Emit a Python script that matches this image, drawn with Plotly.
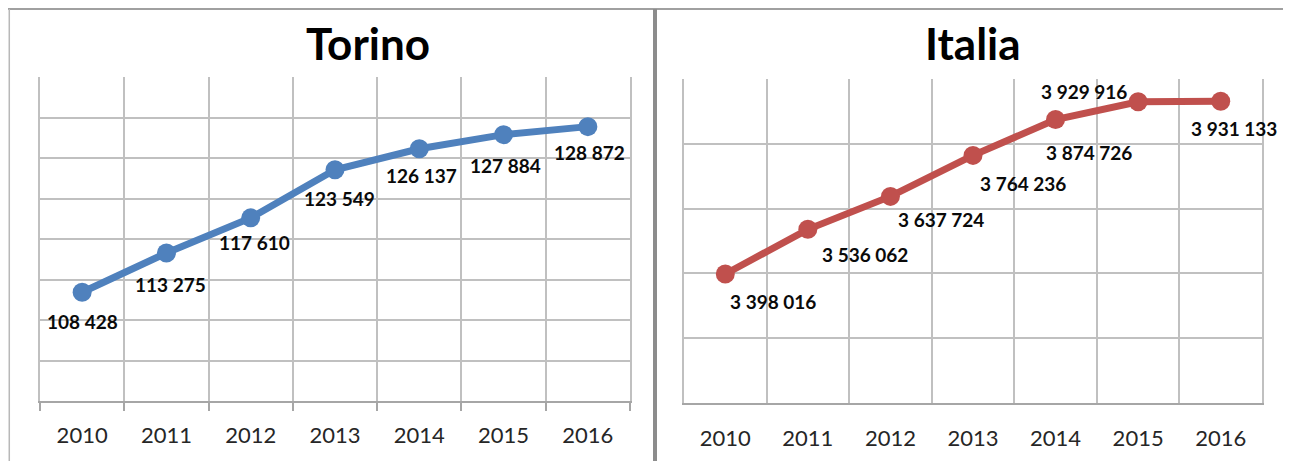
import plotly.graph_objects as go

# ---- data ----
years = ["2010", "2011", "2012", "2013", "2014", "2015", "2016"]
torino_values = [108428, 113275, 117610, 123549, 126137, 127884, 128872]
italia_values = [3398016, 3536062, 3637724, 3764236, 3874726, 3929916, 3931133]
titles = ["Torino", "Italia"]

# ---- label placement (pixel offsets from each point) ----
torino_dx = [0, 4, 4, 4, 2, 2, 2]
torino_dy = [-29, -32, -25, -29, -27, -31, -26]
italia_dx = [48, 57, 51, 50, 33, -54, 13]
italia_dy = [-27, -25, -23, -28, -33, 10, -27]

# page has an 8px body margin; the figure occupies the rest of the window
OFF = 8
W, H = 1291 - OFF, 461 - OFF
BLUE = "#4f81bd"
RED = "#c0504d"
GRID = "#c0c0c0"
AXIS = "#a6a6a6"
FONT = "Lato"


def fmt(v):
    return f"{v:,}".replace(",", " ")


def px_x(p):
    return (p - OFF) / W


def px_y(p):
    return (461 - p) / H


fig = go.Figure()

fig.add_trace(go.Scatter(
    x=years, y=torino_values, mode="lines+markers",
    line=dict(color=BLUE, width=7), marker=dict(color=BLUE, size=19),
    xaxis="x", yaxis="y", showlegend=False, hoverinfo="x+y"))
fig.add_trace(go.Scatter(
    x=years, y=italia_values, mode="lines+markers",
    line=dict(color=RED, width=7), marker=dict(color=RED, size=19),
    xaxis="x2", yaxis="y2", showlegend=False, hoverinfo="x+y"))

annotations = []
for i, (v, dx, dy) in enumerate(zip(torino_values, torino_dx, torino_dy)):
    annotations.append(dict(x=i, y=v, xref="x", yref="y", text=fmt(v), showarrow=False,
                            xshift=dx, yshift=dy,
                            font=dict(family=FONT, size=19, color="#0a0a0a", weight="bold")))
for i, (v, dx, dy) in enumerate(zip(italia_values, italia_dx, italia_dy)):
    annotations.append(dict(x=i, y=v, xref="x2", yref="y2", text=fmt(v), showarrow=False,
                            xshift=dx, yshift=dy,
                            font=dict(family=FONT, size=19, color="#0a0a0a", weight="bold")))

annotations.append(dict(x=px_x(368), y=px_y(43), xref="paper", yref="paper", text=titles[0],
                        showarrow=False, xanchor="center", yanchor="middle",
                        font=dict(family=FONT, size=44, color="#000000", weight="bold")))
annotations.append(dict(x=px_x(973), y=px_y(43), xref="paper", yref="paper", text=titles[1],
                        showarrow=False, xanchor="center", yanchor="middle",
                        font=dict(family=FONT, size=44, color="#000000", weight="bold")))

shapes = [
    # panel frames
    dict(type="line", xref="paper", yref="paper", x0=0, x1=1, y0=px_y(9), y1=px_y(9),
         line=dict(color="#a0a0a0", width=2)),
    dict(type="line", xref="paper", yref="paper", x0=0.001, x1=0.001, y0=0, y1=px_y(9),
         line=dict(color="#b8b8b8", width=1.5)),
    dict(type="line", xref="paper", yref="paper", x0=px_x(655), x1=px_x(655), y0=0, y1=px_y(9),
         line=dict(color="#8c8c8c", width=4)),
]

xcommon = dict(type="category", tickson="boundaries", showgrid=True, gridcolor=GRID, gridwidth=1.5,
               showline=True, linecolor=AXIS, linewidth=1.5, mirror=False, zeroline=False,
               tickfont=dict(family=FONT, size=22, color="#262626"), fixedrange=True)

fig.update_layout(
    width=W, height=H, autosize=False,
    margin=dict(l=0, r=0, t=0, b=0),
    paper_bgcolor="white", plot_bgcolor="white",
    showlegend=False,
    xaxis=dict(domain=[px_x(40), px_x(630)], anchor="y", range=[-0.5, 6.5],
               ticks="outside", ticklen=8, tickcolor=AXIS, tickwidth=1.5,
               ticklabelstandoff=14, **xcommon),
    yaxis=dict(domain=[px_y(401), px_y(77)], anchor="x", range=[95000, 135000], dtick=5000,
               showgrid=True, gridcolor=GRID, gridwidth=1.5, showticklabels=False, ticks="",
               showline=True, linecolor=GRID, linewidth=1.5, mirror=True, zeroline=False,
               fixedrange=True),
    xaxis2=dict(domain=[px_x(684), px_x(1262)], anchor="y2", range=[-0.5, 6.5],
                ticks="", ticklabelstandoff=15, **xcommon),
    yaxis2=dict(domain=[px_y(403), px_y(79)], anchor="x2", range=[3000000, 4000000], dtick=200000,
                showgrid=True, gridcolor=GRID, gridwidth=1.5, showticklabels=False, ticks="",
                showline=True, linecolor=GRID, linewidth=1.5, mirror=True, zeroline=False,
                fixedrange=True),
    annotations=annotations,
    shapes=shapes,
)

fig.write_html("out.html")
